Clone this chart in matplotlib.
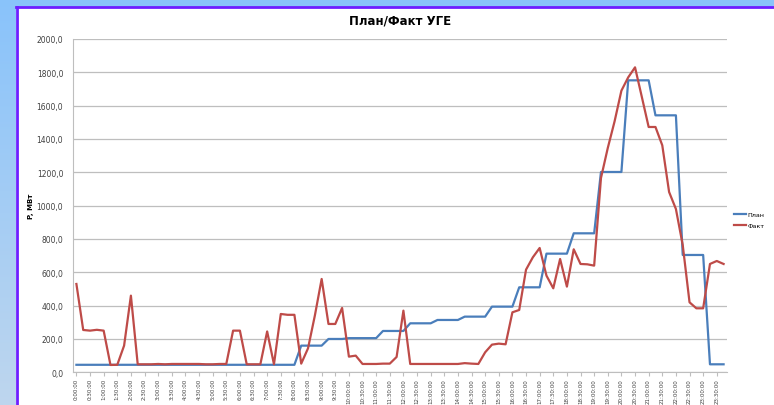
import numpy as np
import matplotlib.pyplot as plt
from matplotlib.patches import Rectangle
from matplotlib.lines import Line2D

# 15-minute steps, label every 30 minutes
times = ["%d:%02d:00" % (i // 4, (i % 4) * 15) for i in range(96)]

plan = ([45] * 33 + [160] * 4 + [200] * 3 + [205] * 5 + [248] * 4 + [294] * 4
        + [314] * 4 + [334] * 4 + [394] * 4 + [510] * 4 + [712] * 4 + [834] * 4
        + [1202] * 4 + [1752] * 4 + [1542] * 4 + [704] * 4 + [48] * 3)

fact = [530, 254, 250, 255, 250, 44, 45, 160, 460, 48,
        48, 48, 50, 48, 50, 50, 50, 50, 50, 48,
        48, 50, 50, 250, 250, 48, 48, 48, 245, 48,
        350, 345, 345, 52, 144, 340, 560, 290, 290, 386,
        94, 100, 50, 50, 50, 52, 52, 92, 370, 50,
        50, 50, 50, 50, 50, 50, 50, 55, 52, 50,
        120, 166, 172, 168, 360, 374, 616, 690, 746, 580,
        504, 680, 514, 738, 650, 648, 640, 1166, 1346, 1506,
        1690, 1770, 1830, 1652, 1472, 1472, 1362, 1082, 980, 764,
        420, 384, 384, 650, 668, 650]

fig = plt.figure(figsize=(7.74, 4.06), dpi=100)

# blue slide background with gradient
bg = fig.add_axes([0, 0, 1, 1], zorder=-10)
grad = np.linspace(0, 1, 256).reshape(-1, 1)
top = np.array([137, 195, 251]) / 255
bot = np.array([190, 214, 238]) / 255
img = top + (bot - top) * grad[:, :, None]
bg.imshow(img, aspect="auto", extent=[0, 1, 0, 1])
bg.set_xlim(0, 1)
bg.set_ylim(0, 1)
bg.axis("off")

# white chart panel with purple edge
W, H = 774, 406
bg.add_patch(Rectangle((16 / W, 0), 1, 1 - 8 / H, facecolor="white", edgecolor="none"))
bg.plot([17 / W, 17 / W], [0, 1 - 8 / H], color="#6E1EFF", lw=2)
bg.plot([16 / W, 1], [1 - 8 / H, 1 - 8 / H], color="#6E1EFF", lw=2)

ax = fig.add_axes([73 / W, 1 - 373.3 / H, 654 / W, 333.3 / H])
x = np.arange(96)
ax.plot(x, plan, color="#4A7EBB", lw=1.6, label="План")
ax.plot(x, fact, color="#BE4B48", lw=1.6, label="Факт")

ax.set_xlim(-0.5, 95.5)
ax.set_ylim(0, 2000)
ax.set_yticks(range(0, 2001, 200))
ax.set_yticklabels(["%d,0" % v for v in range(0, 2001, 200)], fontsize=5.5, color="#404040")
ax.set_xticks(x[::2])
ax.set_xticklabels(times[::2], rotation=90, fontsize=4.0, color="#404040")
ax.tick_params(axis="y", length=0, pad=7)
ax.tick_params(axis="x", length=3, color="#BEBEBE", pad=1)
ax.grid(axis="y", color="#BEBEBE", lw=0.9)
ax.set_axisbelow(True)
for s in ["top", "right"]:
    ax.spines[s].set_visible(False)
for s in ["left", "bottom"]:
    ax.spines[s].set_color("#BEBEBE")

ax.set_title("План/Факт УГЕ", fontsize=8.5, fontweight="bold", pad=11)
ax.set_ylabel("P, МВт", fontsize=5, fontweight="bold", labelpad=2)

handles = [Line2D([], [], color="#4A7EBB", lw=1.6), Line2D([], [], color="#BE4B48", lw=1.6)]
fig.legend(handles, ["План", "Факт"], loc="center left", bbox_to_anchor=(733 / W, 1 - 221 / H),
           frameon=False, fontsize=4.6, handlelength=1.8, handletextpad=0.3,
           labelspacing=0.9, borderpad=0.2, borderaxespad=0)

fig.savefig("out.png", dpi=100)
